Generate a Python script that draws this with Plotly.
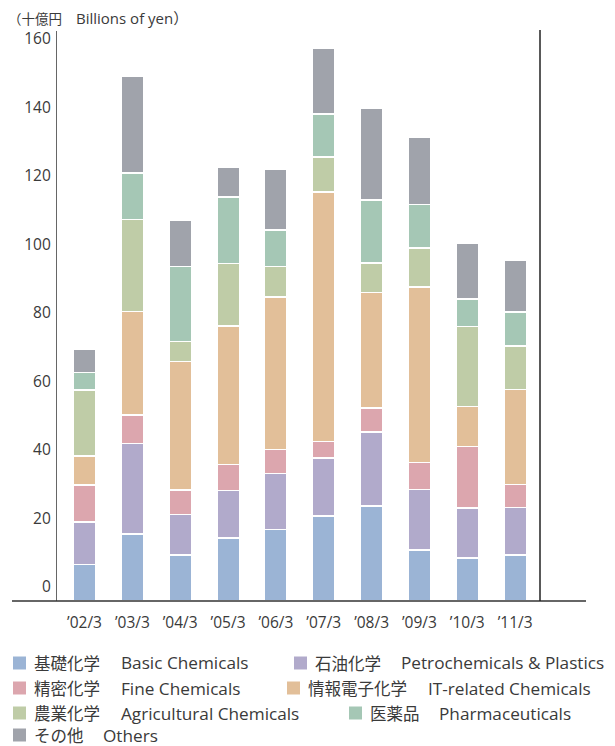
import plotly.graph_objects as go

# Fiscal years (ending March)
categories = ["’02/3", "’03/3", "’04/3", "’05/3", "’06/3",
              "’07/3", "’08/3", "’09/3", "’10/3", "’11/3"]

# Segment values, billions of yen
basic_chemicals = [10.7, 19.6, 13.4, 18.4, 20.9, 24.8, 27.8, 14.9, 12.5, 13.4]
petrochemicals = [12.4, 26.4, 11.8, 13.8, 16.3, 17.0, 21.5, 17.7, 14.6, 13.9]
fine_chemicals = [10.7, 8.3, 7.2, 7.6, 7.0, 4.7, 7.0, 7.8, 18.0, 6.7]
it_related = [8.5, 30.2, 37.5, 40.5, 44.6, 72.9, 33.7, 51.2, 11.7, 27.8]
agricultural = [19.3, 26.8, 5.8, 18.3, 8.8, 10.2, 8.7, 11.4, 23.4, 12.6]
pharmaceuticals = [5.1, 13.7, 21.9, 19.3, 10.7, 12.6, 18.4, 12.8, 7.9, 9.9]
others = [6.7, 28.3, 13.6, 8.8, 17.7, 19.2, 26.8, 19.7, 16.4, 15.1]

names_ja = ["基礎化学", "石油化学", "精密化学", "情報電子化学", "農業化学", "医薬品", "その他"]
names_en = ["Basic Chemicals", "Petrochemicals & Plastics", "Fine Chemicals",
            "IT-related Chemicals", "Agricultural Chemicals", "Pharmaceuticals", "Others"]

y_ticks = [0, 20, 40, 60, 80, 100, 120, 140, 160]

series = [basic_chemicals, petrochemicals, fine_chemicals, it_related,
          agricultural, pharmaceuticals, others]
colors = ["#9bb4d5", "#b1aacb", "#dca6ae", "#e2bf99", "#bfcca7", "#a5c7b5", "#a0a3ab"]

FONT = "'Open Sans', 'Noto Sans CJK JP', sans-serif"
FONT_JA = "'Noto Sans CJK JP', sans-serif"
TEXT_COLOR = "#3a3a3a"

W, H = 615, 746
M_L, M_R, M_T, M_B = 57, 75, 31, 145
PLOT_W = W - M_L - M_R
PLOT_H = H - M_T - M_B


def px_x(px):
    return (px - M_L) / PLOT_W


def px_y(py):
    return (H - M_B - py) / PLOT_H


def label(text, x, y, family, size):
    return dict(text=text, xref="paper", yref="paper", x=px_x(x), y=px_y(y),
                xanchor="left", yanchor="middle", showarrow=False, borderpad=0,
                font=dict(family=family, size=size, color=TEXT_COLOR))


fig = go.Figure()
for vals, color, ja, en in zip(series, colors, names_ja, names_en):
    fig.add_trace(go.Bar(
        x=categories, y=vals, name=f"{ja} {en}",
        marker=dict(color=color, line=dict(color="white", width=1.5)),
        showlegend=False,
    ))

shapes = [
    # baseline extending past both sides of the plot
    dict(type="line", xref="paper", yref="paper",
         x0=px_x(12), x1=px_x(586), y0=0, y1=0,
         line=dict(color="#333333", width=1.5)),
    # right frame line
    dict(type="line", xref="paper", yref="paper",
         x0=1, x1=1, y0=0, y1=px_y(30),
         line=dict(color="#222222", width=1.5)),
]

# Unit caption
annotations = [
    label("（十億円", 7, 18, FONT_JA, 13.5),
    label("Billions of yen）", 75, 18, FONT, 15),
]

# Legend laid out as flowing text rows
legend_x = [13, 294, 13, 287, 13, 349, 13]
legend_en_x = [120, 400, 120, 427, 120, 438, 102]
legend_y = [663, 663, 688, 688, 713, 713, 735]
for color, ja, en, lx, ex, ly in zip(colors, names_ja, names_en,
                                     legend_x, legend_en_x, legend_y):
    shapes.append(dict(type="rect", xref="paper", yref="paper",
                       x0=px_x(lx), x1=px_x(lx + 13),
                       y0=px_y(ly + 6.5), y1=px_y(ly - 6.5),
                       fillcolor=color, line=dict(width=0)))
    annotations.append(label(ja, lx + 20, ly, FONT_JA, 16.5))
    annotations.append(label(en, ex, ly, FONT, 17.2))

fig.update_layout(
    width=W, height=H,
    margin=dict(l=M_L, r=M_R, t=M_T, b=M_B, pad=0),
    paper_bgcolor="white", plot_bgcolor="white",
    barmode="stack", bargap=0.53,
    font=dict(family=FONT, size=16, color=TEXT_COLOR),
    shapes=shapes, annotations=annotations,
    xaxis=dict(range=[-0.575, 9.52], showline=False, showgrid=False,
               zeroline=False, ticks="", ticklabelstandoff=10,
               tickfont=dict(family=FONT, size=15.5, color=TEXT_COLOR)),
    yaxis=dict(range=[0, 166.4], tickvals=y_ticks, showgrid=False,
               zeroline=False, showline=True, linecolor="#666666", linewidth=1.3,
               ticks="", ticklabelshift=-14, ticklabelstandoff=2,
               tickfont=dict(family=FONT, size=15.5, color=TEXT_COLOR)),
)

fig.write_html("out.html")
